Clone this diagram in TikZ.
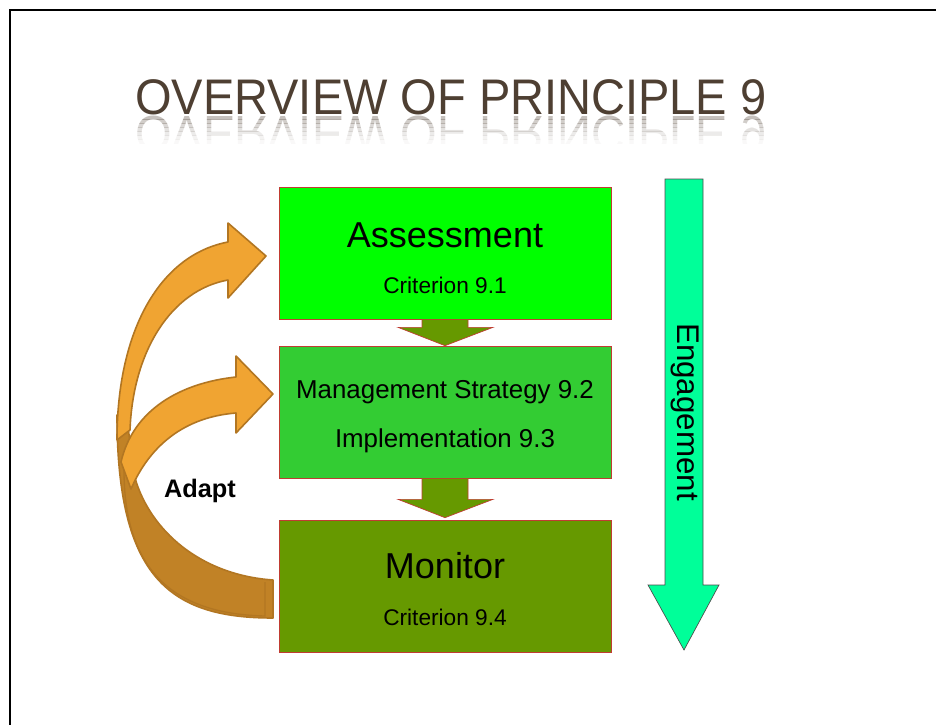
\documentclass[tikz,border=0pt]{standalone}
\usepackage{fontspec}
\setmainfont{Liberation Sans}
\usetikzlibrary{positioning}
\definecolor{titlebrn}{RGB}{78,63,50}
\definecolor{boxred}{RGB}{192,60,50}
\definecolor{asmtgrn}{RGB}{0,255,0}
\definecolor{stratgrn}{RGB}{51,204,51}
\definecolor{olive9}{RGB}{102,153,0}
\definecolor{engage}{RGB}{0,255,153}
\definecolor{adaptlt}{RGB}{240,164,50}
\definecolor{adaptdk}{RGB}{193,130,38}
\definecolor{adaptln}{RGB}{178,118,34}
\begin{document}
\begin{tikzpicture}[x=0.75pt,y=-0.75pt,
    box/.style={draw=boxred, line width=0.5pt, minimum width=249pt, minimum height=99pt, inner sep=0pt},
    bigtxt/.style={font=\fontsize{27}{30}\selectfont, anchor=base, inner sep=0pt},
    midtxt/.style={font=\fontsize{19.4}{22}\selectfont, anchor=base, inner sep=0pt},
    smalltxt/.style={font=\fontsize{17}{20}\selectfont, anchor=base, inner sep=0pt},
    titletxt/.style={font=\fontsize{37.5}{40}\selectfont, text=titlebrn, anchor=base west, inner sep=0pt, xscale=0.94, transform shape},
    blockarr/.style={fill=olive9, draw=boxred, line width=0.5pt},
    adaptarr/.style={fill=adaptlt, draw=adaptln, line width=1.2pt, line join=round},
    adapttail/.style={fill=adaptdk, draw=adaptln, line width=1.2pt, line join=round}]
  \useasboundingbox (0,0) rectangle (936,725);
  \fill[white] (0,0) rectangle (936,725);
  \draw[line width=1.5pt] (10,725) -- (10,10) -- (936,10);

  % title and its reflection
  \node (title) [titletxt] at (135,114) {OVERVIEW OF PRINCIPLE 9};
  \foreach \y/\op in {115/0.32,119/0.26,123/0.2,127/0.15,131/0.1,135/0.06,139/0.03}{
    \begin{scope}
      \clip (120,\y) rectangle (800,\y+4);
      \node (mirror\y) [titletxt, yscale=-1, text opacity=\op] at (135,116) {OVERVIEW OF PRINCIPLE 9};
    \end{scope}
  }

  % boxes
  \node (asmt) [box, fill=asmtgrn] at (445,253) {};
  \node (strat) [box, fill=stratgrn] at (445,412) {};
  \node (mon) [box, fill=olive9] at (445,586) {};

  \node (asmtname) [bigtxt] at (445,247) {Assessment};
  \node (crit1) [smalltxt] at (445,293) {Criterion 9.1};
  \node (stratname) [midtxt] at (445,398) {Management Strategy 9.2};
  \node (implname) [midtxt] at (445,447) {Implementation 9.3};
  \node (monname) [bigtxt] at (445,578) {Monitor};
  \node (crit4) [smalltxt] at (445,625) {Criterion 9.4};

  \draw[blockarr] ([shift={(-23,0)}]asmt.south) |- ([shift={(-47,8)}]asmt.south) -- (strat.north)
    -- ([shift={(48,8)}]asmt.south) -| ([shift={(23,0)}]asmt.south) -- cycle;
  \draw[blockarr] ([shift={(-23,0)}]strat.south) |- ([shift={(-47,21)}]strat.south) -- ([shift={(0,-2)}]mon.north)
    -- ([shift={(48,21)}]strat.south) -| ([shift={(23,0)}]strat.south) -- cycle;

  % engagement
  \draw[fill=engage, draw=black!70, line width=0.5pt] (665,179) -- (703,179) -- (703,585) -- (719,585)
    -- (684,650) -- (648,585) -- (665,585) -- cycle;
  \node (engagetxt) [rotate=-90, anchor=base, inner sep=0pt, font=\fontsize{23.5}{26}\selectfont] at (677,412) {Engagement};

  % adapt loop
  \draw[adapttail] (117,415) .. controls (117,578) and (170,618) .. (273,618) -- (273,580)
    .. controls (200,575) and (150,530) .. (135,478) -- (127,420) -- cycle;
  \draw[adaptln, line width=1pt] (124,470) .. controls (124,575) and (178,614) .. (265,616) -- (265,582);
  \draw[adaptarr] (117,440) .. controls (117,330) and (160,255) .. (228,242) -- (228,223) -- (266,256)
    -- (228,298) -- (228,280) .. controls (172,290) and (133,350) .. (130,430) -- cycle;
  \draw[adaptarr] (121,462) .. controls (133,410) and (180,383) .. (236,377) -- (236,356) -- (273,394)
    -- (236,433) -- (236,413) .. controls (185,417) and (150,445) .. (131,489) -- cycle;
  \node (adapt) [anchor=base, inner sep=0pt, font=\bfseries\fontsize{19}{22}\selectfont] at (200,497) {Adapt};
\end{tikzpicture}
\end{document}
